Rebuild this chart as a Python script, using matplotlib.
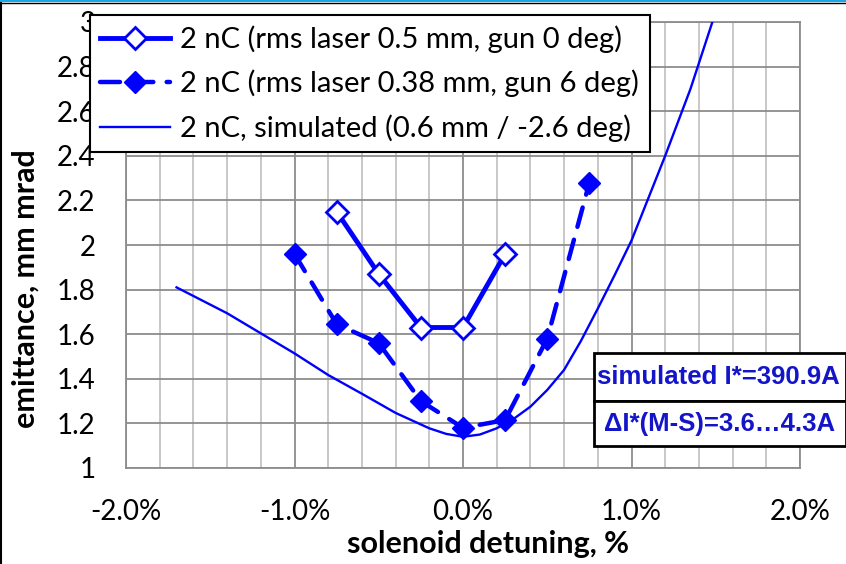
import matplotlib
matplotlib.use("Agg")
import matplotlib.pyplot as plt
from matplotlib.lines import Line2D
from matplotlib.patches import Rectangle
import numpy as np

plt.rcParams['font.family'] = ['Lato', 'DejaVu Sans']

# Data (detuning in %, emittance in mm mrad)
x_meas1 = [-0.75, -0.50, -0.25, 0.00, 0.25]
y_meas1 = [2.15, 1.87, 1.63, 1.63, 1.96]

x_meas2 = [-1.00, -0.75, -0.50, -0.25, 0.00, 0.25, 0.50, 0.75]
y_meas2 = [1.96, 1.645, 1.56, 1.30, 1.18, 1.215, 1.58, 2.28]

x_sim = [-1.70, -1.40, -1.20, -1.00, -0.80, -0.60, -0.40, -0.20, -0.10, 0.00,
         0.10, 0.20, 0.30, 0.40, 0.50, 0.60, 0.70, 0.80, 0.90, 1.00, 1.10, 1.20, 1.35, 1.48]
y_sim = [1.81, 1.694, 1.604, 1.514, 1.417, 1.333, 1.247, 1.178, 1.153, 1.14,
         1.150, 1.178, 1.22, 1.275, 1.35, 1.44, 1.57, 1.715, 1.865, 2.02, 2.21, 2.40, 2.70, 3.0]

labels = ["2 nC (rms laser 0.5 mm, gun 0 deg)",
          "2 nC (rms laser 0.38 mm, gun 6 deg)",
          "2 nC, simulated (0.6 mm / -2.6 deg)"]
x_ticks = [-2.0, -1.0, 0.0, 1.0, 2.0]
y_ticks = [1.0, 1.2, 1.4, 1.6, 1.8, 2.0, 2.2, 2.4, 2.6, 2.8, 3.0]
box_texts = ["simulated I*=390.9A", "\u0394I*(M-S)=3.6\u20264.3A"]

W, H = 846, 564
fig = plt.figure(figsize=(W / 100, H / 100), dpi=100)
ax = fig.add_axes([126 / W, 1 - 468 / H, (800 - 126) / W, (468 - 22) / H])

blue = '#0000FF'
l1, = ax.plot(x_meas1, y_meas1, color=blue, lw=3.5, marker='D', ms=11,
              mfc='white', mec=blue, mew=2, zorder=5)
l2, = ax.plot(x_meas2, y_meas2, color=blue, lw=3.2, linestyle=(0, (4.5, 3)),
              dash_capstyle='round', marker='D', ms=11, mfc=blue, mec=blue, zorder=5)
l3, = ax.plot(x_sim, y_sim, color=blue, lw=1.7, zorder=4, solid_joinstyle='round')

ax.set_xlim(-2.0, 2.0)
ax.set_ylim(1.0, 3.0)
ax.set_xticks(x_ticks)
ax.set_xticklabels([f"{v:.1f}%" for v in x_ticks])
ax.set_yticks(y_ticks)
ax.set_yticklabels([f"{v:g}" for v in y_ticks])
ax.set_xticks(np.arange(-2.0, 2.01, 0.2), minor=True)
ax.tick_params(axis='both', which='both', length=0, labelsize=20)
ax.tick_params(axis='y', pad=22)
ax.tick_params(axis='x', pad=22)

ax.grid(True, which='minor', axis='x', color='#c4c4c4', lw=1.3)
ax.grid(True, which='major', axis='x', color='#8c8c8c', lw=1.3)
ax.grid(True, which='major', axis='y', color='#8c8c8c', lw=1.3)
ax.set_axisbelow(True)
for s in ax.spines.values():
    s.set_color('#8c8c8c')
    s.set_linewidth(1.3)

ax.set_xlabel("solenoid detuning, %", fontsize=22, fontweight='bold')
ax.set_ylabel("emittance, mm mrad", fontsize=22, fontweight='bold')
ax.xaxis.set_label_coords((488 - 126) / 674, (468 - 530) / 446)
ax.yaxis.set_label_coords((40 - 126) / 674, (468 - 289) / 446)

leg = fig.legend([l1, l2, l3], labels, loc='upper left',
                 bbox_to_anchor=(90 / W, 1 - 15 / H), fontsize=21,
                 frameon=True, fancybox=False, edgecolor='black', framealpha=1,
                 handlelength=2.4, handletextpad=0.35, labelspacing=0.58,
                 borderpad=0.35, borderaxespad=0, numpoints=1)
leg.get_frame().set_linewidth(1.5)
leg.set_zorder(10)

# text boxes
bx0, bx1 = 594 / W, 1.0
by = [1 - 353 / H, 1 - 401 / H, 1 - 446 / H]
for i in range(2):
    r = Rectangle((bx0, by[i + 1]), bx1 - bx0, by[i] - by[i + 1], transform=fig.transFigure,
                  facecolor='white', edgecolor='black', lw=2, zorder=20)
    fig.add_artist(r)
    fig.text(bx0 + 0.003 if i == 0 else bx0 + 0.012, (by[i] + by[i + 1]) / 2, box_texts[i],
             ha='left', va='center', fontsize=18.5, fontweight='bold', color='#1414C8',
             family=['Liberation Sans', 'DejaVu Sans'], zorder=21)

# figure border lines
fig.add_artist(Line2D([0, 1], [1 - 1 / H, 1 - 1 / H], transform=fig.transFigure,
                      color='#18A8E8', lw=1.5))
fig.add_artist(Line2D([0, 1], [1 - 3 / H, 1 - 3 / H], transform=fig.transFigure,
                      color='black', lw=1.0))
fig.add_artist(Line2D([0.5 / W, 0.5 / W], [0, 1 - 3 / H], transform=fig.transFigure,
                      color='black', lw=1.5))

fig.savefig("out.png", dpi=100)
